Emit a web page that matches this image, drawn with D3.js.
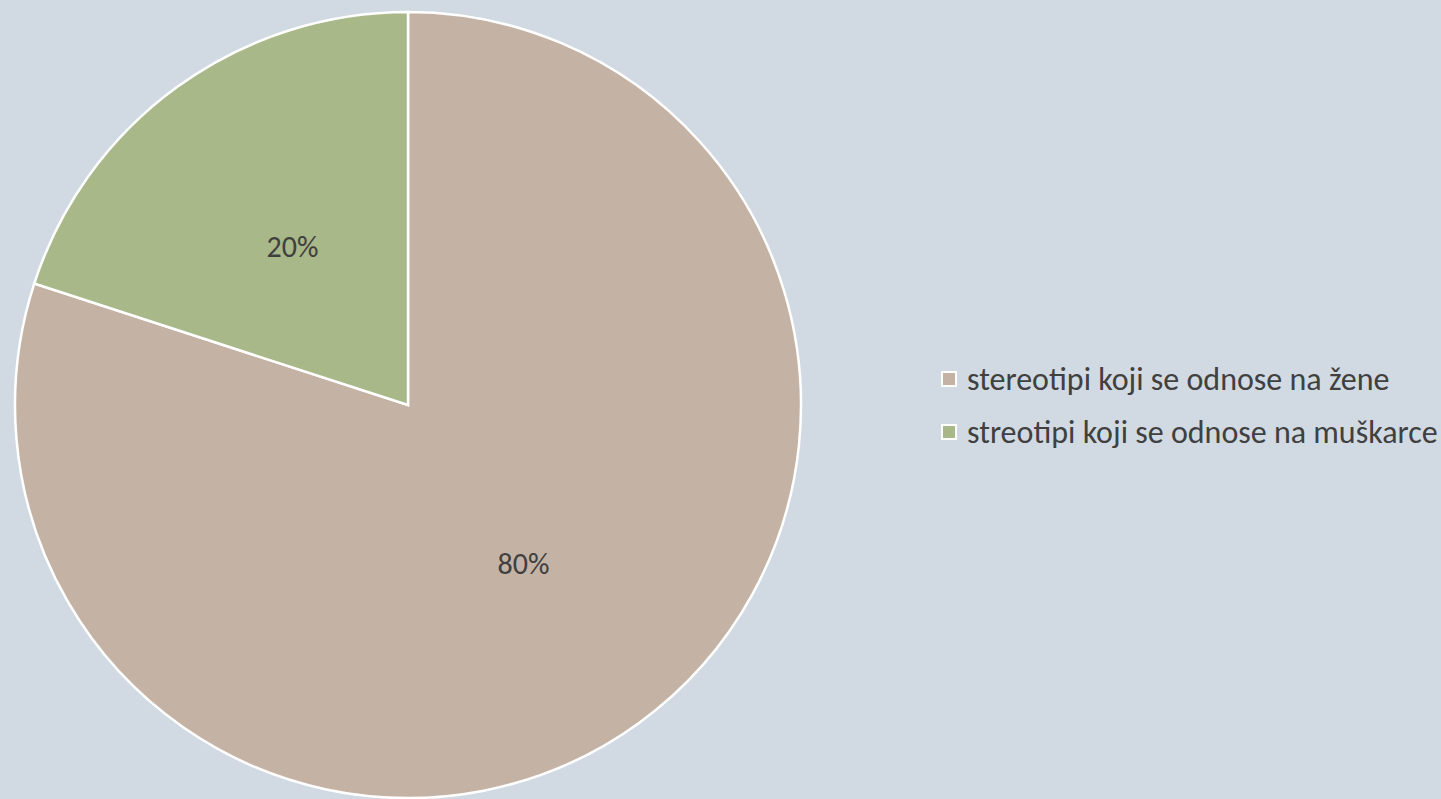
<!DOCTYPE html>
<html>
<head>
<meta charset="utf-8">
<script src="https://cdn.jsdelivr.net/npm/d3@7"></script>
<style>
  html, body { margin: 0; padding: 0; background: #D1DAE2; }
  svg { display: block; font-family: Calibri, Carlito, Lato, sans-serif; }
</style>
</head>
<body>
<div id="chart"></div>
<script>
const categories = ["stereotipi koji se odnose na žene", "streotipi koji se odnose na muškarce"];
const values = [80, 20];
const labels = ["80%", "20%"];
const colors = ["#C4B3A4", "#A8B888"];

const width = 1441, height = 799;
const cx = 408, cy = 405, radius = 393;

const svg = d3.select("#chart").append("svg")
    .attr("width", width)
    .attr("height", height);

svg.append("rect").attr("width", width).attr("height", height).attr("fill", "#D1DAE2");

const data = categories.map((c, i) => ({ name: c, value: values[i], label: labels[i], color: colors[i] }));

const pie = d3.pie().sort(null).value(d => d.value);
const arc = d3.arc().innerRadius(0).outerRadius(radius);

const g = svg.append("g").attr("transform", `translate(${cx},${cy})`);

const slices = g.selectAll(".slice")
    .data(pie(data))
    .enter().append("g")
    .attr("class", "slice");

slices.append("path")
    .attr("d", arc)
    .attr("fill", d => d.data.color)
    .attr("stroke", "#fff")
    .attr("stroke-width", 2.5)
    .attr("stroke-linejoin", "miter");

slices.append("text")
    .attr("transform", d => `translate(${arc.centroid(d)})`)
    .attr("text-anchor", "middle")
    .attr("dy", "0.35em")
    .attr("font-size", 30)
    .attr("fill", "#404040")
    .text(d => d.data.label);

// Legend
const legend = svg.append("g").attr("transform", "translate(942,379)");
const item = legend.selectAll(".item")
    .data(data)
    .enter().append("g")
    .attr("class", "item")
    .attr("transform", (d, i) => `translate(0,${i * 53})`);

item.append("rect")
    .attr("x", 0).attr("y", -7)
    .attr("width", 14).attr("height", 14)
    .attr("fill", d => d.color)
    .attr("stroke", "#fff")
    .attr("stroke-width", 2);

item.append("text")
    .attr("x", 25)
    .attr("dy", "0.35em")
    .attr("font-size", 32)
    .attr("fill", "#404040")
    .text(d => d.name);
</script>
</body>
</html>
